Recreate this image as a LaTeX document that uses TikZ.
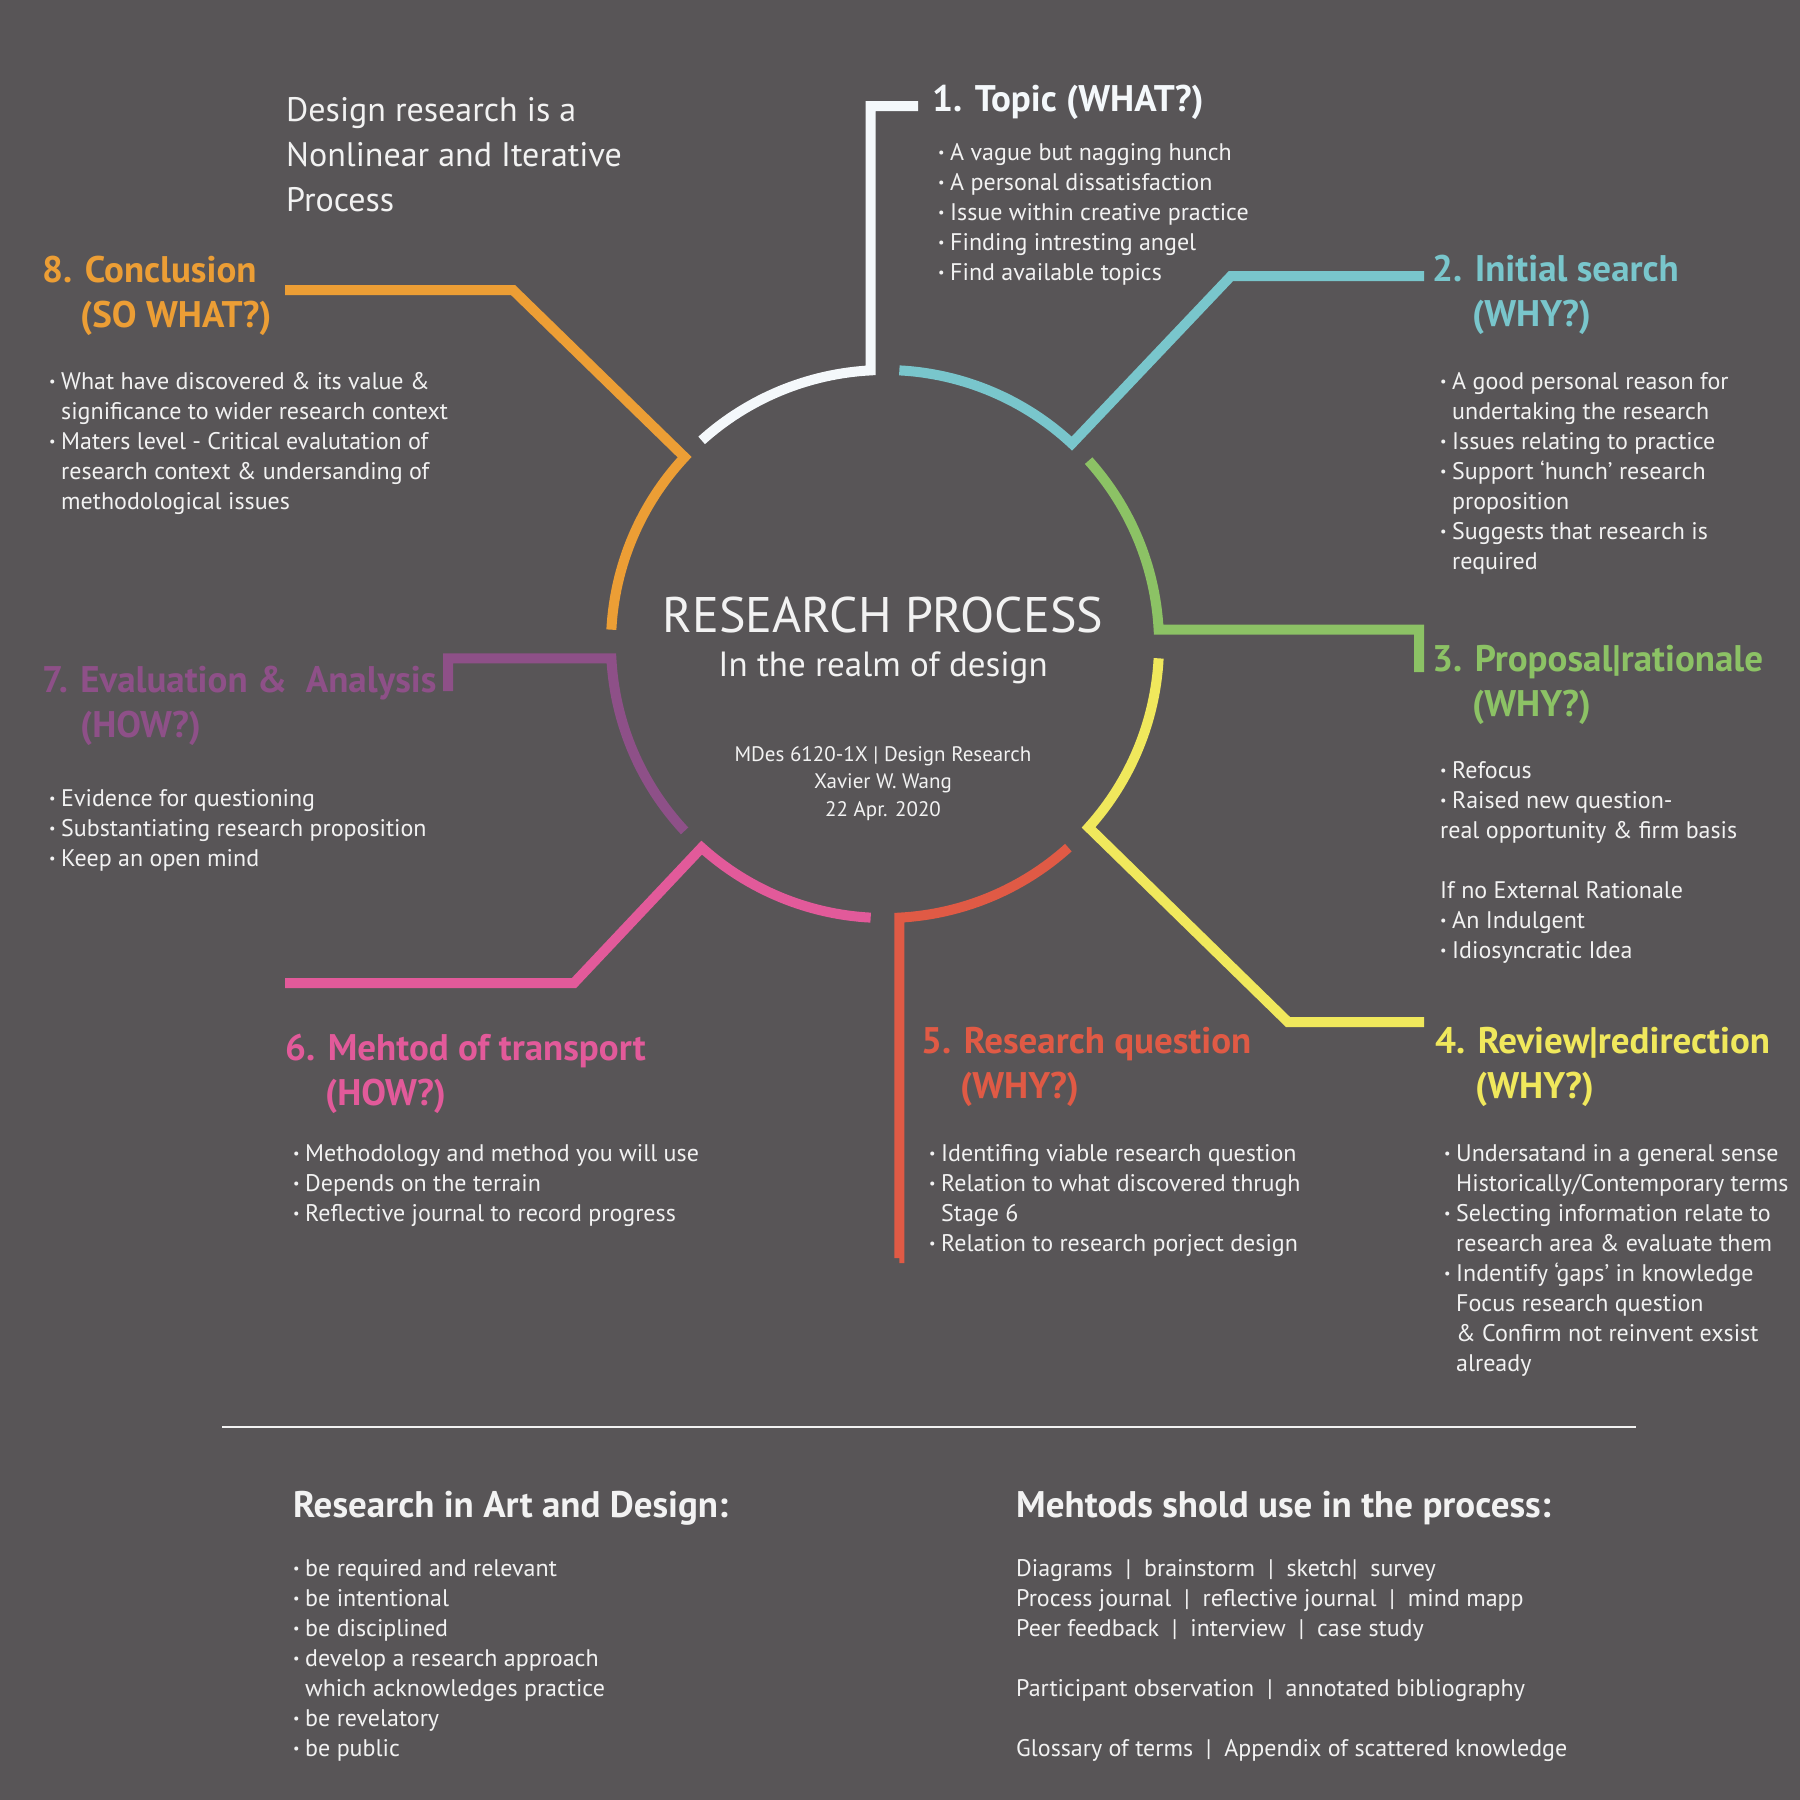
\documentclass[tikz,border=0pt]{standalone}
\usepackage{fontspec}
\setmainfont{PT Sans}
\usepackage{graphicx}
\usetikzlibrary{calc}
\definecolor{bg}{HTML}{585557}
\definecolor{cwhite}{HTML}{F4F8FB}
\definecolor{ctext}{HTML}{F2F2F2}
\definecolor{cteal}{HTML}{79C6CC}
\definecolor{cgreen}{HTML}{8CC265}
\definecolor{cyellow}{HTML}{F0E85C}
\definecolor{cred}{HTML}{E05A45}
\definecolor{cpink}{HTML}{E25A9A}
\definecolor{cpurple}{HTML}{8E5088}
\definecolor{corange}{HTML}{EC9E35}
\newcommand{\bu}{\makebox[12pt][l]{\raisebox{0.12em}{\scalebox{0.6}{•}}}}
\newcommand{\ind}{\hspace*{12pt}}
\newcommand{\tl}[1]{\begin{tabular}[t]{@{}l@{}}#1\end{tabular}}
\newcommand{\tc}[1]{\begin{tabular}[t]{@{}c@{}}#1\end{tabular}}
\begin{document}
\begin{tikzpicture}[x=1pt,y=-1pt,
  conn/.style={line width=10pt, line join=miter, line cap=butt},
  head/.style={font=\fontsize{37}{45}\selectfont\bfseries, anchor=base west, inner sep=0pt},
  body/.style={font=\fontsize{24}{30}\selectfont, text=ctext, anchor=base west, inner sep=0pt},
  ctr/.style={text=ctext, anchor=base, inner sep=0pt}]
\fill[bg] (0,0) rectangle (1800,1800);
\useasboundingbox (0,0) rectangle (1800,1800);
\coordinate (C) at (885,644);
% connector bend points
\coordinate (w2) at (918,106);
\coordinate (t1) at (1231,276);
\coordinate (t2) at (1424,276);
\coordinate (g2) at (1419,672);
\coordinate (y1) at (1288,1022);
\coordinate (y2) at (1424,1022);
\coordinate (r2) at (899.3,1258);
\coordinate (p1) at (574,983);
\coordinate (p2) at (285,983);
\coordinate (u2) at (448,691);
\coordinate (o1) at (513,290);
\coordinate (o2) at (285,290);
% arcs + connectors
\draw[conn, cwhite] ($(C)+(132:274pt)$) arc[start angle=132, end angle=93, radius=274pt] |- (w2);
\draw[conn, cteal] ($(C)+(87:274pt)$) arc[start angle=87, end angle=47, radius=274pt] -- (t1) -- (t2);
\draw[conn, cgreen] ($(C)+(42:274pt)$) arc[start angle=42, end angle=3, radius=274pt] -| (g2);
\draw[conn, cyellow] ($(C)+(-3:274pt)$) arc[start angle=-3, end angle=-42, radius=274pt] -- (y1) -- (y2);
\draw[conn, cred] ($(C)+(-48:274pt)$) arc[start angle=-48, end angle=-87, radius=274pt] |- (r2);
\draw[conn, cpink] ($(C)+(-93:274pt)$) arc[start angle=-93, end angle=-132, radius=274pt] -- (p1) -- (p2);
\draw[conn, cpurple] ($(C)+(-137:274pt)$) arc[start angle=-137, end angle=-177, radius=274pt] -| (u2);
\draw[conn, corange] ($(C)+(177:274pt)$) arc[start angle=177, end angle=137, radius=274pt] -- (o1) -- (o2);

% intro
\node[body, font=\fontsize{34}{45}\selectfont] (intro) at (286,121) {\tl{Design research is a\\Nonlinear and Iterative\\Process}};

% centre
\node[ctr, font=\fontsize{50}{60}\selectfont] (rp) at (883,632) {RESEARCH PROCESS};
\node[ctr, font=\fontsize{35}{44}\selectfont] (realm) at (883,676) {In the realm of design};
\node[ctr, font=\fontsize{21}{27.5}\selectfont] (meta) at (883,761) {\tc{MDes 6120-1X | Design Research\\Xavier W. Wang\\22 Apr. 2020}};

% 1 Topic
\node[head, text=cwhite] (h1) at (932,111) {1. Topic (WHAT?)};
\node[body] (b1) at (938,160) {\tl{\bu A vague but nagging hunch\\\bu A personal dissatisfaction\\\bu Issue within creative practice\\\bu Finding intresting angel\\\bu Find available topics}};

% 2 Initial search
\node[head, text=cteal] (h2) at (1432,281) {\tl{2. Initial search\\\hspace*{40pt}(WHY?)}};
\node[body] (b2) at (1440,389) {\tl{\bu A good personal reason for\\\ind undertaking the research\\\bu Issues relating to practice\\\bu Support ‘hunch’ research\\\ind proposition\\\bu Suggests that research is\\\ind required}};

% 3 Proposal
\node[head, text=cgreen] (h3) at (1432,671) {\tl{3. Proposal|rationale\\\hspace*{40pt}(WHY?)}};
\node[body] (b3) at (1440,778) {\tl{\bu Refocus\\\bu Raised new question-\\real opportunity \& firm basis\\[30pt]If no External Rationale\\\bu An Indulgent\\\bu Idiosyncratic Idea}};

% 4 Review
\node[head, text=cyellow] (h4) at (1435,1053) {\tl{4. Review|redirection\\\hspace*{40pt}(WHY?)}};
\node[body] (b4) at (1444,1161) {\tl{\bu Undersatand in a general sense\\\ind Historically/Contemporary terms\\\bu Selecting information relate to\\\ind research area \& evaluate them\\\bu Indentify ‘gaps’ in knowledge\\\ind Focus research question\\\ind\&\ Confirm not reinvent exsist\\\ind already}};

% 5 Research question
\node[head, text=cred] (h5) at (921,1053) {\tl{5. Research question\\\hspace*{39pt}(WHY?)}};
\node[body] (b5) at (929,1161) {\tl{\bu Identifing viable research question\\\bu Relation to what discovered thrugh\\\ind Stage 6\\\bu Relation to research porject design}};

% 6 Method
\node[head, text=cpink] (h6) at (285,1060) {\tl{6. Mehtod of transport\\\hspace*{40pt}(HOW?)}};
\node[body] (b6) at (293,1161) {\tl{\bu Methodology and method you will use\\\bu Depends on the terrain\\\bu Reflective journal to record progress}};

% 7 Evaluation
\node[head, text=cpurple] (h7) at (42,692) {\tl{7. Evaluation \&\ \ Analysis\\\hspace*{38pt}(HOW?)}};
\node[body] (b7) at (49,806) {\tl{\bu Evidence for questioning\\\bu Substantiating research proposition\\\bu Keep an open mind}};

% 8 Conclusion
\node[head, text=corange] (h8) at (42,282) {\tl{8. Conclusion\\\hspace*{38pt}(SO WHAT?)}};
\node[body] (b8) at (49,389) {\tl{\bu What have discovered \& its value \&\\\ind significance to wider research context\\\bu Maters level - Critical evalutation of\\\ind research context \& undersanding of\\\ind methodological issues}};

% separator
\coordinate (s1) at (222,1427);
\coordinate (s2) at (1636,1427);
\draw[ctext, line width=1.6pt] (s1) -- (s2);

% bottom
\node[head, text=ctext] (hb1) at (293,1517) {Research in Art and Design:};
\node[body] (bb1) at (293,1576) {\tl{\bu be required and relevant\\\bu be intentional\\\bu be disciplined\\\bu develop a research approach\\\ind which acknowledges practice\\\bu be revelatory\\\bu be public}};
\node[head, text=ctext] (hb2) at (1016,1517) {Mehtods shold use in the process:};
\node[body] (bb2) at (1016,1576) {\tl{Diagrams \ |\ \ brainstorm \ |\ \ sketch|\ \ survey\\Process journal \ |\ \ reflective journal \ |\ \ mind mapp\\Peer feedback \ |\ \ interview \ |\ \ case study\\[30pt]Participant observation \ |\ \ annotated bibliography\\[30pt]Glossary of terms \ |\ \ Appendix of scattered knowledge}};
\end{tikzpicture}
\end{document}
